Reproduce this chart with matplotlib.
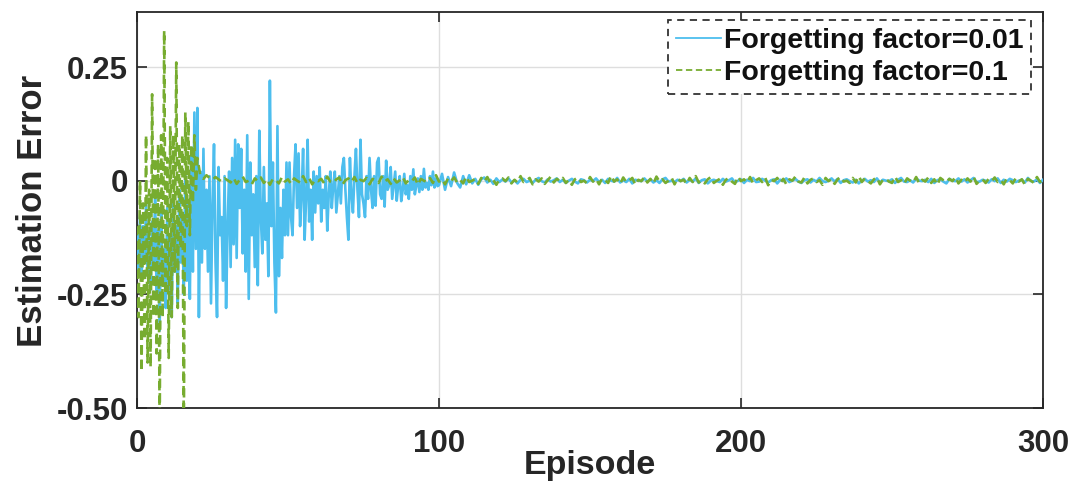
import numpy as np
import matplotlib
matplotlib.use("Agg")
import matplotlib.pyplot as plt

plt.rcParams['font.family'] = ['Liberation Sans', 'DejaVu Sans']
plt.rcParams['font.weight'] = 'bold'

# ---- data -------------------------------------------------------------
# Forgetting factor = 0.01 : episodes 0..100 sampled every half episode
blue_early = [
    -0.12, -0.20, -0.08, -0.22, -0.10, -0.18, -0.05, -0.21, -0.13, -0.24,
    -0.09, -0.19, -0.03, -0.26, -0.11, -0.33, -0.07, -0.22, -0.15, -0.28,
    -0.06, -0.24, -0.12, -0.30, -0.04, -0.20, -0.10, -0.27, -0.02, -0.18,
    -0.08, -0.25, 0.02, -0.22, -0.05, -0.26, 0.06, -0.20, 0.15, -0.15,
    0.16, -0.30, 0.02, -0.18, 0.07, -0.15, -0.02, -0.20, 0.01, -0.27,
    -0.05, 0.08, -0.18, -0.30, 0.03, -0.12, -0.08, -0.22, 0.01, -0.28,
    -0.10, 0.02, -0.19, 0.05, -0.14, 0.09, -0.17, 0.08, -0.06, 0.07,
    -0.16, -0.02, -0.20, 0.10, -0.26, 0.04, -0.12, -0.03, -0.19, 0.01,
    -0.23, 0.11, -0.08, -0.16, 0.03, -0.13, -0.05, -0.21, 0.22, -0.10,
    0.04, -0.18, -0.29, 0.12, -0.21, -0.06, -0.17, -0.02, -0.12, 0.04,
    -0.12, 0.04, -0.08, -0.12, 0.01, 0.08, -0.06, 0.06, -0.10, -0.03,
    0.07, -0.13, -0.04, 0.09, -0.09, -0.02, -0.13, 0.02, -0.07, 0.01,
    -0.05, 0.03, -0.09, -0.02, -0.06, 0.01, -0.11, -0.03, 0.02, -0.06,
    -0.01, 0.02, -0.07, -0.03, 0.01, -0.05, 0.03, 0.05, -0.02, -0.08,
    -0.13, 0.05, -0.03, -0.07, 0.01, 0.07, -0.02, -0.08, 0.09, -0.03,
    -0.05, -0.08, 0.01, -0.04, 0.05, -0.02, -0.06, 0.01, -0.055, 0.04,
    0.05, -0.03, -0.04, 0.01, -0.057, 0.044, -0.02, -0.01, 0.03, -0.04,
    -0.01, 0.02, -0.044, -0.01, 0.01, -0.045, -0.02, 0.015, -0.03, -0.01,
    -0.04, 0.01, -0.02, 0.025, -0.03, -0.01, 0.005, -0.025, 0.01, -0.02,
    0.026, -0.015, -0.005, -0.02, 0.01, -0.01, 0.02, -0.015, 0.005, -0.012,
    -0.01,
]
# episodes 101..300, one sample per episode (thousandths)
blue_late_milli = [
    15, -20, 8, -12, 18, -5, -15, 10, -8, 12,
    -6, 4, -9, 3, 7, -4, 2, -7, 5, -3,
    3, -2, 5, -4, 1, -6, 2, 4, -3, 0,
    -5, 2, 6, -1, -4, 3, -2, 1, 5, -3,
    2, -5, 0, 4, -2, -6, 3, 1, -4, 2,
    -1, 5, -3, 2, -5, 4, 0, -2, 6, -4,
    1, -3, 4, -6, 2, 0, -1, 5, -2, 3,
    -4, 1, -5, 3, 6, -2, 0, -3, 2, -1,
    4, -4, 2, -2, 5, -5, 1, 3, -6, 0,
    2, -1, -3, 4, -2, 1, 5, -4, 0, 3,
    -5, 2, -1, 6, -3, -2, 4, 0, -4, 1,
    3, -6, 2, -1, 5, -3, 0, 4, -2, -5,
    1, 3, -4, 2, -2, 6, -1, -3, 0, 5,
    -2, 4, -5, 1, 3, -1, -4, 2, -6, 0,
    4, -2, 1, -3, 5, -4, 2, 0, -1, 3,
    -5, 2, 6, -2, -3, 1, -4, 5, 0, -1,
    2, -3, 4, -5, 1, 3, -2, -6, 4, 0,
    -1, 5, -2, 3, -4, 1, 6, -3, -2, 2,
    0, -4, 3, -1, 5, -5, 2, -2, 4, 1,
    -3, 0, 2, -4, 6, -1, -2, 3, -5, 2,
]

# Forgetting factor = 0.1 : episodes 0..20 sampled every half episode
green_early = [
    -0.10, -0.30, 0.00, -0.42, -0.05, -0.35, 0.10, -0.40, -0.02, -0.41,
    0.19, -0.30, 0.05, -0.38, 0.08, -0.56, 0.10, -0.30, 0.33, -0.25,
    0.05, -0.39, 0.12, -0.30, 0.10, -0.20, 0.26, -0.28, 0.08, -0.15,
    0.10, -0.56, 0.15, -0.10, 0.13, -0.12, 0.08, -0.05, 0.10, -0.02,
    0.05,
]
# episodes 21..300, one sample per episode (thousandths)
green_late_milli = [
    10, 4, 12, 6, 2, 8, 3, -2, 5, 1,
    -4, 6, -7, 2, 9, -3, 0, -8, 5, -1,
    7, -5, 3, -9, 4, 1, -6, 8, -2, 3,
    -7, 5, 0, -4, 10, -3, 6, -8, 2, -1,
    4, -6, 9, -2, -5, 3, 7, -9, 1, 5,
    -3, 8, -6, 2, -1, 6, -8, 4, 0, -5,
    9, -2, 3, -7, 5, -4, 1, 8, -6, 2,
    -1, 7, -9, 4, 0, -3, 6, -5, 12, -2,
    3, -8, 5, -1, 7, -4, 2, -6, 9, -3,
    0, 4, -7, 6, -2, 8, -5, 1, -9, 3,
    5, -1, 7, -6, 2, -4, 10, -3, 0, 6,
    -8, 3, -2, 5, -7, 1, 9, -4, 4, -1,
    6, -5, 2, -9, 3, 7, -3, 0, -6, 8,
    -2, 4, -8, 5, 1, -5, 11, -2, 3, -7,
    7, -3, 0, 6, -9, 2, -1, 8, -4, 4,
    -6, 9, -2, 3, -5, 0, 7, -8, 5, -1,
    2, -7, 6, -3, 10, -4, 1, -6, 3, 8,
    -5, 0, 4, -9, 2, 6, -2, -7, 9, -1,
    3, -4, 8, -6, 1, 5, -3, 7, -10, 2,
    -1, 6, -5, 4, -8, 3, 0, 9, -2, -4,
    7, -6, 2, 5, -3, 1, -9, 6, -1, 4,
    -7, 3, 8, -2, 0, -5, 6, -4, 10, -3,
    5, -1, -6, 3, 7, -8, 2, 4, -2, -5,
    9, -3, 1, -7, 5, 0, -4, 8, -6, 2,
    -2, 7, -5, 3, -9, 6, 1, -3, 4, -1,
    8, -6, 2, -4, 5, -2, 9, -7, 0, 3,
    -5, 4, -1, 7, -3, 2, -8, 5, 1, -6,
    6, -2, 3, -9, 4, 0, -5, 8, -3, 2,
]

series_labels = ["Forgetting factor=0.01", "Forgetting factor=0.1"]
x_ticks = [0, 100, 200, 300]
y_ticks = [-0.50, -0.25, 0.0, 0.25]
y_tick_labels = ["-0.50", "-0.25", "0", "0.25"]

# ---- assemble series --------------------------------------------------
x_blue = np.concatenate([np.arange(len(blue_early)) * 0.5,
                         101 + np.arange(len(blue_late_milli))])
y_blue = np.concatenate([blue_early, np.array(blue_late_milli) / 1000.0])
x_green = np.concatenate([np.arange(len(green_early)) * 0.5,
                          21 + np.arange(len(green_late_milli))])
y_green = np.concatenate([green_early, np.array(green_late_milli) / 1000.0])

# ---- figure -----------------------------------------------------------
W, H = 1069, 484
fig = plt.figure(figsize=(W / 100, H / 100), dpi=100)
ax = fig.add_axes([137 / W, 1 - 408 / H, (1043 - 137) / W, (408 - 12) / H])

dark = '#262626'
ax.plot(x_blue, y_blue, color='#4DBEEE', lw=1.9, label=series_labels[0], zorder=3)
ax.plot(x_green, y_green, color='#77AC30', lw=1.9, linestyle=(0, (3.5, 2.0)),
        label=series_labels[1], zorder=4)

ax.set_xlim(0, 300)
ax.set_ylim(-0.5, 0.371)
ax.set_xticks(x_ticks)
ax.set_yticks(y_ticks)
ax.set_yticklabels(y_tick_labels)
ax.grid(True, color='#dedede', lw=1.0)
ax.set_axisbelow(True)

ax.tick_params(direction='in', length=7, width=1.2, colors=dark,
               top=True, right=True, labelsize=22.5)
ax.tick_params(axis='x', pad=15)
ax.tick_params(axis='y', pad=6.5)
for lab in ax.get_xticklabels() + ax.get_yticklabels():
    lab.set_fontweight('bold')
for sp in ax.spines.values():
    sp.set_color(dark)
    sp.set_linewidth(1.3)

ax.set_xlabel('Episode', fontsize=24.5, fontweight='bold', color=dark)
ax.set_ylabel('Estimation Error', fontsize=25, fontweight='bold', color=dark)
ax.xaxis.set_label_coords(0.5, -0.106)
ax.yaxis.set_label_coords(-0.097, 0.497)

leg = fig.legend(loc='upper right', bbox_to_anchor=(1031 / W, 1 - 20 / H),
                 prop={'weight': 'bold', 'size': 20.5},
                 handlelength=1.6, handletextpad=0.08, borderpad=0.28,
                 labelspacing=0.22, fancybox=False, framealpha=1,
                 borderaxespad=0)
frame = leg.get_frame()
frame.set_edgecolor('#333333')
frame.set_linestyle((0, (4, 3)))
frame.set_linewidth(1.3)
for t in leg.get_texts():
    t.set_color('#111111')
for h in leg.get_lines():
    h.set_linewidth(1.3)

fig.savefig('out.png', dpi=100)
